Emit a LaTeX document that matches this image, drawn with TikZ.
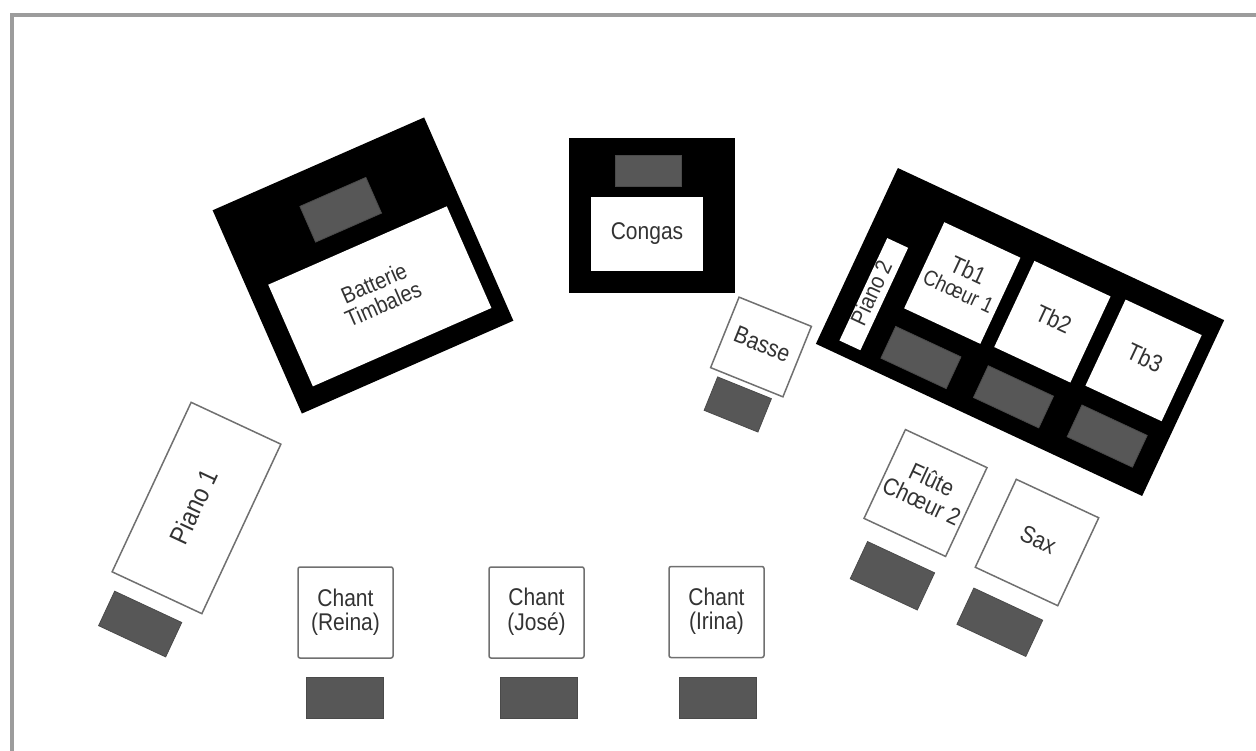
\documentclass[tikz,border=0pt]{standalone}
\usepackage{fontspec}
\setmainfont{Liberation Sans}
\usepackage{graphicx}
\definecolor{ampgrey}{HTML}{575757}
\definecolor{edgegrey}{HTML}{707070}
\definecolor{txtgrey}{HTML}{333333}
\definecolor{framegrey}{HTML}{9C9C9C}
\newcommand\lbl[2][21]{\scalebox{1}[1.15]{\fontsize{#1}{18.5}\selectfont\begin{tabular}{@{}c@{}}#2\end{tabular}}}
\tikzset{
  riser/.style={fill=black, draw=none, inner sep=0pt},
  amp/.style={fill=ampgrey, draw=ampgrey!85!black, line width=0.8pt, inner sep=0pt},
  player/.style={fill=white, draw=edgegrey, line width=1.5pt, inner sep=0pt, text=txtgrey},
  inset/.style={fill=white, draw=none, inner sep=0pt, text=txtgrey},
  sz/.style 2 args={minimum width=#1pt, minimum height=#2pt},
}
\begin{document}
\begin{tikzpicture}[x=1pt,y=-1pt]
\useasboundingbox (0,0) rectangle (1256,751);
\draw[framegrey, line width=3.5pt] (12,751) -- (12,15) -- (1256,15);

% Batterie
\begin{scope}[shift={(363,265.5)}, rotate=23.7, transform shape]
  \node[riser, sz={231}{222}] (batriser) at (0,0) {};
  \node[inset, sz={195}{111}] (bat) at (3,35) {\lbl[20]{Batterie\\Timbales}};
  \node[amp, sz={72}{39}] (batamp) at (2,-60) {};
\end{scope}

% Congas
\node[riser, sz={166}{155}] (congriser) at (652,215.5) {};
\node[inset, sz={112}{74}] (cong) at (647,234) {\lbl{Congas}};
\node[amp, sz={66}{31}] (congamp) at (648,170.5) {};

% Basse
\begin{scope}[shift={(761,347)}, rotate=-22, transform shape]
  \node[player, sz={78}{76}] (basse) at (0,0) {\lbl{Basse}};
  \node[amp, sz={58}{36}] (basseamp) at (0,62) {};
\end{scope}

% Cuivres
\begin{scope}[shift={(1020,332)}, rotate=-25, transform shape]
  \node[riser, sz={360}{194}] (cuivres) at (0,0) {};
  \node[inset, sz={23}{113}] (p2) at (-148.5,27.5) {\rotatebox{90}{\lbl[20]{Piano 2}}};
  \node[inset, sz={84}{95}] (tb1) at (-73,-20) {\lbl{Tb1\\{\fontsize{19}{18.5}\selectfont Chœur 1}}};
  \node[inset, sz={84}{95}] (tb2) at (25,-23) {\lbl{Tb2}};
  \node[inset, sz={84}{95}] (tb3) at (124,-26.5) {\lbl{Tb3}};
  \node[amp, sz={72}{35}] (tb1amp) at (-79,65) {};
  \node[amp, sz={72}{35}] (tb2amp) at (21.5,61.5) {};
  \node[amp, sz={72}{35}] (tb3amp) at (123,57.5) {};
\end{scope}

% Piano 1
\begin{scope}[shift={(196.5,508)}, rotate=-25, transform shape]
  \node[player, sz={99}{187}] (p1) at (0,0) {\rotatebox{90}{\lbl[23]{Piano 1}}};
  \node[amp, sz={74}{38}] (p1amp) at (-2,129) {};
\end{scope}

% Chant
\node[player, sz={95}{91}, rounded corners=2pt] (reina) at (345.5,612.5) {\lbl{Chant\\(Reina)}};
\node[amp, sz={77}{41}] (reinaamp) at (344.5,697.5) {};
\node[player, sz={95}{91}, rounded corners=2pt] (jose) at (536.5,612.5) {\lbl{Chant\\(José)}};
\node[amp, sz={77}{41}] (joseamp) at (538.5,697.5) {};
\node[player, sz={95}{91}, rounded corners=2pt] (irina) at (716.5,612) {\lbl{Chant\\(Irina)}};
\node[amp, sz={77}{41}] (irinaamp) at (717.5,697.5) {};

% Flute
\begin{scope}[shift={(925.5,493)}, rotate=-25, transform shape]
  \node[player, sz={90}{98}] (flute) at (0,0) {\lbl{Flûte\\Chœur 2}};
  \node[amp, sz={74}{41}] (fluteamp) at (5,89) {};
\end{scope}

% Sax
\begin{scope}[shift={(1037,542.5)}, rotate=-25, transform shape]
  \node[player, sz={91}{97}] (sax) at (0,0) {\lbl{Sax}};
  \node[amp, sz={76}{40}] (saxamp) at (0,88) {};
\end{scope}
\end{tikzpicture}
\end{document}
